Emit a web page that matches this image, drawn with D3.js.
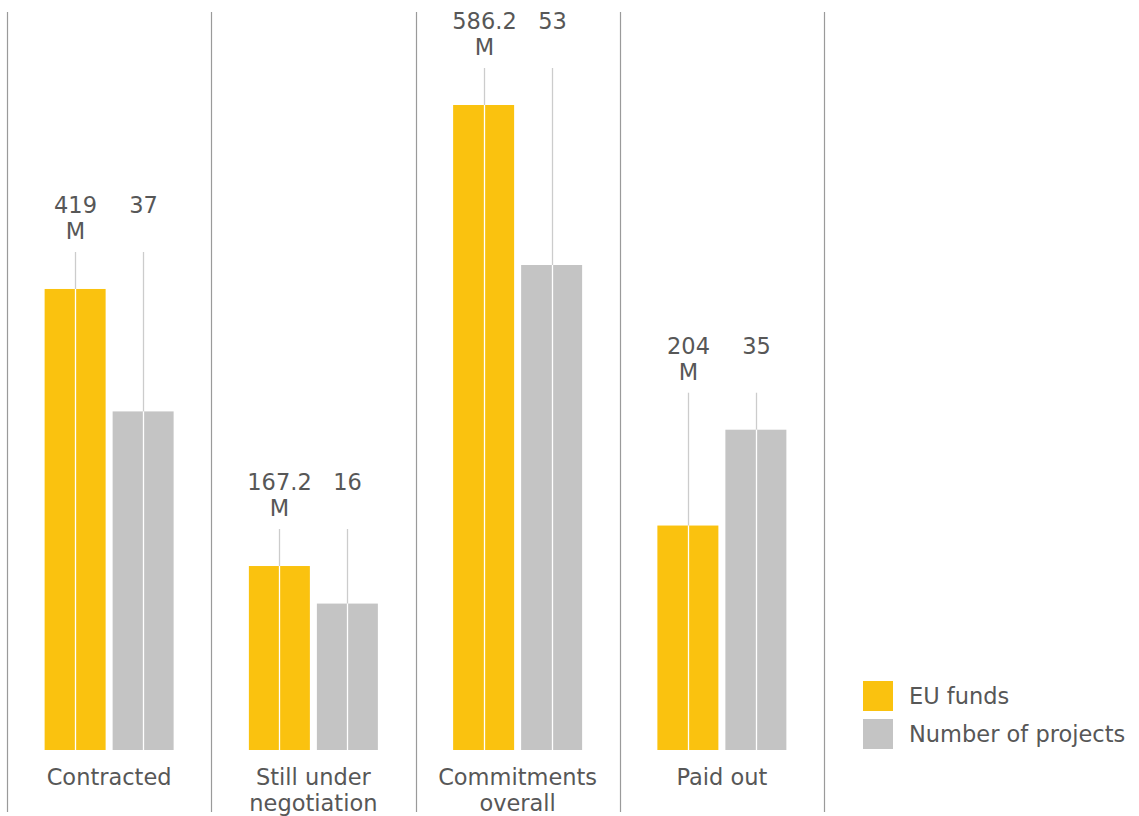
<!DOCTYPE html>
<html>
<head>
<meta charset="utf-8">
<script src="https://cdn.jsdelivr.net/npm/d3@7"></script>
<style>
  html, body { margin: 0; padding: 0; background: #fff; }
  svg { display: block; font-family: "DejaVu Sans", "Noto Sans", sans-serif; }
</style>
</head>
<body>
<svg id="chart" width="1139" height="816"></svg>
<script>
// Categories and the two series shown side by side in each group
const categories = [["Contracted"], ["Still under", "negotiation"], ["Commitments", "overall"], ["Paid out"]];
const euFunds = [419, 167.2, 586.2, 204];          // million EUR
const projectCounts = [37, 16, 53, 35];            // number of projects
const seriesNames = ["EU funds", "Number of projects"];

const colors = { funds: "#FAC20F", projects: "#C4C4C4", text: "#575757", rule: "#9a9a9a", leader: "#cccccc" };
const fontSize = 22.5;

const svg = d3.select("#chart");
const baseline = 750;

// one band per category, separated by vertical rules
const x = d3.scaleBand().domain(d3.range(categories.length)).range([7, 824]).paddingInner(0).paddingOuter(0);
const barW = 61, gap = 7;

// each series has its own value scale
const yFunds = d3.scaleLinear().domain([0, d3.max(euFunds)]).range([baseline, 105]);
const yCount = d3.scaleLinear().domain([0, d3.max(projectCounts)]).range([baseline, 265]);

// vertical separators
const ruleXs = d3.range(categories.length + 1).map(i => i < categories.length ? x(i) : x(categories.length - 1) + x.bandwidth());
svg.selectAll("line.rule").data(ruleXs).join("line")
  .attr("class", "rule")
  .attr("x1", d => Math.round(d) + 0.5).attr("x2", d => Math.round(d) + 0.5)
  .attr("y1", 12).attr("y2", 812)
  .attr("stroke", colors.rule).attr("stroke-width", 1.2);

const groups = svg.selectAll("g.group").data(categories.map((c, i) => ({
  i, label: c, funds: euFunds[i], count: projectCounts[i]
}))).join("g").attr("class", "group");

groups.each(function(d) {
  const g = d3.select(this);
  const cx = x(d.i) + x.bandwidth() / 2;
  const bars = [
    { x0: cx - gap / 2 - barW, top: yFunds(d.funds), color: colors.funds, text: [String(d.funds), "M"] },
    { x0: cx + gap / 2, top: yCount(d.count), color: colors.projects, text: [String(d.count)] }
  ];
  const leaderTop = Math.min(bars[0].top, bars[1].top) - 37;

  bars.forEach(b => {
    const mid = Math.round(b.x0 + barW / 2) + 0.5;
    g.append("rect")
      .attr("x", b.x0).attr("y", b.top)
      .attr("width", barW).attr("height", baseline - b.top)
      .attr("fill", b.color);
    // leader line from label down to the bar
    g.append("line")
      .attr("x1", mid).attr("x2", mid)
      .attr("y1", leaderTop).attr("y2", b.top)
      .attr("stroke", colors.leader).attr("stroke-width", 1.3);
    // continuation through the bar
    g.append("line")
      .attr("x1", mid).attr("x2", mid)
      .attr("y1", b.top).attr("y2", baseline)
      .attr("stroke", "#ffffff").attr("stroke-width", 1.3);
    // value label
    b.text.forEach((t, k) => {
      g.append("text")
        .attr("x", mid).attr("y", leaderTop - 39 + k * 26)
        .attr("text-anchor", "middle")
        .attr("font-size", fontSize).attr("fill", colors.text)
        .text(t);
    });
  });

  // category label
  d.label.forEach((t, k) => {
    g.append("text")
      .attr("x", cx).attr("y", 785 + k * 26)
      .attr("text-anchor", "middle")
      .attr("font-size", fontSize).attr("fill", colors.text)
      .text(t);
  });
});

// legend
const legend = svg.append("g").attr("transform", "translate(863,681)");
const legendColors = [colors.funds, colors.projects];
seriesNames.forEach((name, k) => {
  legend.append("rect").attr("x", 0).attr("y", k * 38).attr("width", 30).attr("height", 30).attr("fill", legendColors[k]);
  legend.append("text").attr("x", 46).attr("y", k * 38 + 23)
    .attr("font-size", fontSize).attr("fill", colors.text).text(name);
});
</script>
</body>
</html>
